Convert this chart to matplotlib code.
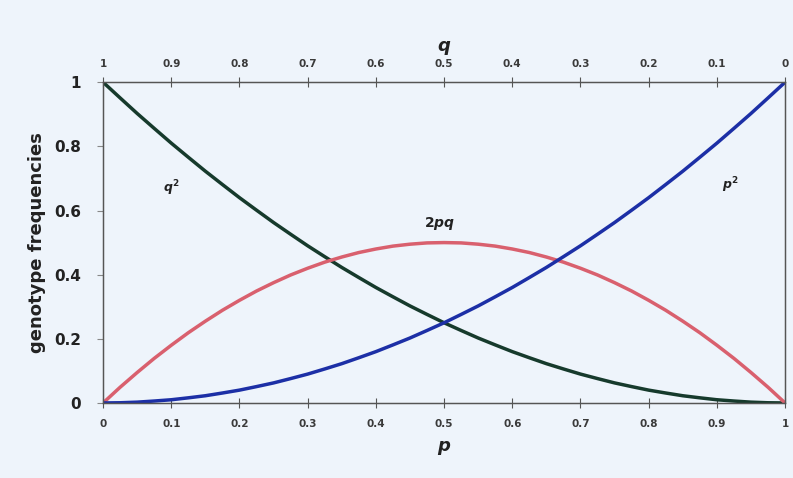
import matplotlib
matplotlib.use("Agg")
import matplotlib.pyplot as plt

plt.rcParams["mathtext.fontset"] = "custom"
plt.rcParams["mathtext.rm"] = "DejaVu Sans:bold"
plt.rcParams["mathtext.it"] = "DejaVu Sans:bold:italic"
plt.rcParams["mathtext.bf"] = "DejaVu Sans:bold:italic"

p_vals = [0.0, 0.025, 0.05, 0.075, 0.1, 0.125, 0.15, 0.175, 0.2, 0.225, 0.25,
          0.275, 0.3, 0.325, 0.35, 0.375, 0.4, 0.425, 0.45, 0.475, 0.5,
          0.525, 0.55, 0.575, 0.6, 0.625, 0.65, 0.675, 0.7, 0.725, 0.75,
          0.775, 0.8, 0.825, 0.85, 0.875, 0.9, 0.925, 0.95, 0.975, 1.0]
q_sq = [1.0, 0.951, 0.9025, 0.856, 0.81, 0.766, 0.7225, 0.681, 0.64, 0.601, 0.5625,
        0.526, 0.49, 0.456, 0.4225, 0.391, 0.36, 0.331, 0.3025, 0.276, 0.25,
        0.226, 0.2025, 0.181, 0.16, 0.141, 0.1225, 0.106, 0.09, 0.076, 0.0625,
        0.051, 0.04, 0.031, 0.0225, 0.016, 0.01, 0.006, 0.0025, 0.0006, 0.0]
two_pq = [0.0, 0.049, 0.095, 0.139, 0.18, 0.219, 0.255, 0.289, 0.32, 0.349, 0.375,
          0.399, 0.42, 0.439, 0.455, 0.469, 0.48, 0.489, 0.495, 0.499, 0.5,
          0.499, 0.495, 0.489, 0.48, 0.469, 0.455, 0.439, 0.42, 0.399, 0.375,
          0.349, 0.32, 0.289, 0.255, 0.219, 0.18, 0.139, 0.095, 0.049, 0.0]
p_sq = [0.0, 0.0006, 0.0025, 0.006, 0.01, 0.016, 0.0225, 0.031, 0.04, 0.051, 0.0625,
        0.076, 0.09, 0.106, 0.1225, 0.141, 0.16, 0.181, 0.2025, 0.226, 0.25,
        0.276, 0.3025, 0.331, 0.36, 0.391, 0.4225, 0.456, 0.49, 0.526, 0.5625,
        0.601, 0.64, 0.681, 0.7225, 0.766, 0.81, 0.856, 0.9025, 0.951, 1.0]

p_ticks = [0, 0.1, 0.2, 0.3, 0.4, 0.5, 0.6, 0.7, 0.8, 0.9, 1]
p_tick_labels = ["0", "0.1", "0.2", "0.3", "0.4", "0.5", "0.6", "0.7", "0.8", "0.9", "1"]
q_tick_labels = ["1", "0.9", "0.8", "0.7", "0.6", "0.5", "0.4", "0.3", "0.2", "0.1", "0"]
y_ticks = [0, 0.2, 0.4, 0.6, 0.8, 1]
y_tick_labels = ["0", "0.2", "0.4", "0.6", "0.8", "1"]

bg = "#eef4fb"
fig = plt.figure(figsize=(7.93, 4.78), dpi=100, facecolor=bg)
ax = fig.add_axes([0.13, 0.157, 0.86, 0.671], facecolor=bg)

ax.plot(p_vals, q_sq, color="#163a2c", lw=2.5, solid_capstyle="round")
ax.plot(p_vals, two_pq, color="#d9606e", lw=2.5, solid_capstyle="round")
ax.plot(p_vals, p_sq, color="#1c2fa6", lw=2.5, solid_capstyle="round")

ax.set_xlim(0, 1)
ax.set_ylim(0, 1)
for s in ax.spines.values():
    s.set_color("#555555")
    s.set_linewidth(1.0)

ax.set_xticks(p_ticks)
ax.set_xticklabels(p_tick_labels, fontsize=7.5, fontweight="bold", color="#3a3a3a")
ax.tick_params(axis="x", direction="inout", length=7, color="#555555", pad=8)
ax.set_yticks(y_ticks)
ax.set_yticklabels(y_tick_labels, fontsize=11, fontweight="bold", color="#222222")
ax.tick_params(axis="y", direction="out", length=4, color="#888888", pad=12)

ax2 = ax.twiny()
ax2.set_xlim(0, 1)
ax2.set_xticks(p_ticks)
ax2.set_xticklabels(q_tick_labels, fontsize=7.5, fontweight="bold", color="#3a3a3a")
ax2.tick_params(axis="x", direction="inout", length=7, color="#555555", pad=6)
for s in ax2.spines.values():
    s.set_color("#555555")

ax.set_ylabel("genotype frequencies", fontsize=13, fontweight="bold", color="#222222", labelpad=6)
ax.set_xlabel("p", fontsize=13, fontweight="bold", fontstyle="italic", color="#222222", labelpad=6)
ax2.set_xlabel("q", fontsize=13, fontweight="bold", fontstyle="italic", color="#222222", labelpad=6)

ax.text(0.1, 0.67, "$q^2$", fontsize=9, color="#222222", ha="center", va="center")
ax.text(0.92, 0.68, "$p^2$", fontsize=9, color="#222222", ha="center", va="center")
ax.text(0.494, 0.56, "$2pq$", fontsize=10, color="#222222", ha="center", va="center")

fig.savefig("out.png", dpi=100, facecolor=bg)
